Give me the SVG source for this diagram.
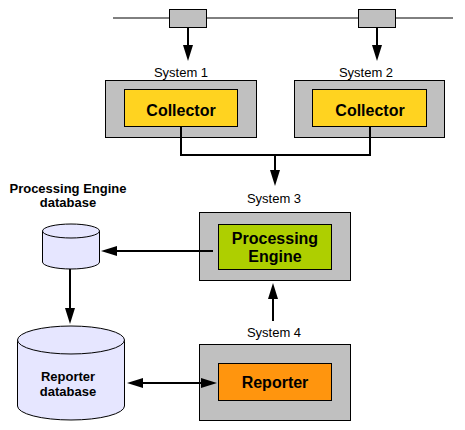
<svg xmlns="http://www.w3.org/2000/svg" width="465" height="430" viewBox="0 0 465 430">
<style>
.outer{fill:#C0C0C0;stroke:#000;stroke-width:1}
.tap{fill:#C0C0C0;stroke:#000;stroke-width:1}
.coll{fill:#FFD320;stroke:#000;stroke-width:1}
.proc{fill:#AECF00;stroke:#000;stroke-width:1}
.rep{fill:#FF950E;stroke:#000;stroke-width:1}
.db{fill:#E6E6FF;stroke:#000;stroke-width:1}
.sys{font-family:"Liberation Sans",Arial,sans-serif;font-size:13px;fill:#000;text-anchor:middle}
.lbl{font-family:"Liberation Sans",Arial,sans-serif;font-size:16px;font-weight:bold;fill:#000;text-anchor:middle}
.dbl{font-family:"Liberation Sans",Arial,sans-serif;font-size:13px;font-weight:bold;fill:#000;text-anchor:middle}
.wire{fill:none;stroke:#000;stroke-width:2}
.net{fill:none;stroke:#000;stroke-width:1}
</style>
<defs>
<marker id="ah" markerUnits="userSpaceOnUse" markerWidth="16" markerHeight="10" refX="0" refY="5" orient="auto-start-reverse" viewBox="0 0 16 10">
<path d="M0,0 L16,5 L0,10 Z" fill="#000"/>
</marker>
</defs>

<g id="network">
<line class="net" x1="113" y1="18" x2="453" y2="18"/>
<rect class="tap" x="169.5" y="9.5" width="37" height="18"/>
<rect class="tap" x="358.5" y="9.5" width="37" height="18"/>
</g>

<g id="system1">
<text class="sys" x="181" y="77">System 1</text>
<rect class="outer" x="105.5" y="80.5" width="151" height="57"/>
<rect class="coll" x="124.5" y="89.5" width="113" height="37"/>
<text class="lbl" x="181" y="116">Collector</text>
</g>

<g id="system2">
<text class="sys" x="366" y="77">System 2</text>
<rect class="outer" x="294.5" y="80.5" width="150" height="57"/>
<rect class="coll" x="312.5" y="89.5" width="114" height="37"/>
<text class="lbl" x="370" y="116">Collector</text>
</g>

<g id="system3">
<text class="sys" x="274" y="203">System 3</text>
<rect class="outer" x="199.5" y="212.5" width="151" height="68"/>
<rect class="proc" x="218.5" y="224.5" width="113" height="45"/>
<text class="lbl" x="275" y="244">Processing</text>
<text class="lbl" x="275" y="262">Engine</text>
</g>

<g id="system4">
<text class="sys" x="274" y="337">System 4</text>
<rect class="outer" x="199.5" y="344.5" width="151" height="76"/>
<rect class="rep" x="218.5" y="363.5" width="113" height="37"/>
<text class="lbl" x="275" y="388">Reporter</text>
</g>

<g id="pe-db">
<text class="dbl" x="68" y="193">Processing Engine</text>
<text class="dbl" x="68" y="207">database</text>
<path class="db" d="M42.5,231 A28.5,7 0 0 1 99.5,231 L99.5,262 A28.5,7 0 0 1 42.5,262 Z"/>
<path class="db" d="M42.5,231 A28.5,7 0 0 0 99.5,231"/>
</g>

<g id="rep-db">
<path class="db" d="M17.5,340 A53.5,14 0 0 1 124.5,340 L124.5,406 A53.5,14 0 0 1 17.5,406 Z"/>
<path class="db" d="M17.5,340 A53.5,14 0 0 0 124.5,340"/>
<text class="dbl" x="68" y="381">Reporter</text>
<text class="dbl" x="68" y="396">database</text>
</g>

<g id="connectors">
<line class="wire" x1="188" y1="27" x2="188" y2="45" marker-end="url(#ah)"/>
<line class="wire" x1="377" y1="27" x2="377" y2="45" marker-end="url(#ah)"/>
<polyline class="wire" points="181,127 181,155 370,155 370,127"/>
<line class="wire" x1="275" y1="155" x2="275" y2="170" marker-end="url(#ah)"/>
<line class="wire" x1="213" y1="251" x2="117" y2="251" marker-end="url(#ah)"/>
<line class="wire" x1="70" y1="269" x2="70" y2="308" marker-end="url(#ah)"/>
<line class="wire" x1="273" y1="321" x2="273" y2="299" marker-end="url(#ah)"/>
<line class="wire" x1="143" y1="383" x2="201" y2="383" marker-start="url(#ah)" marker-end="url(#ah)"/>
</g>
</svg>
